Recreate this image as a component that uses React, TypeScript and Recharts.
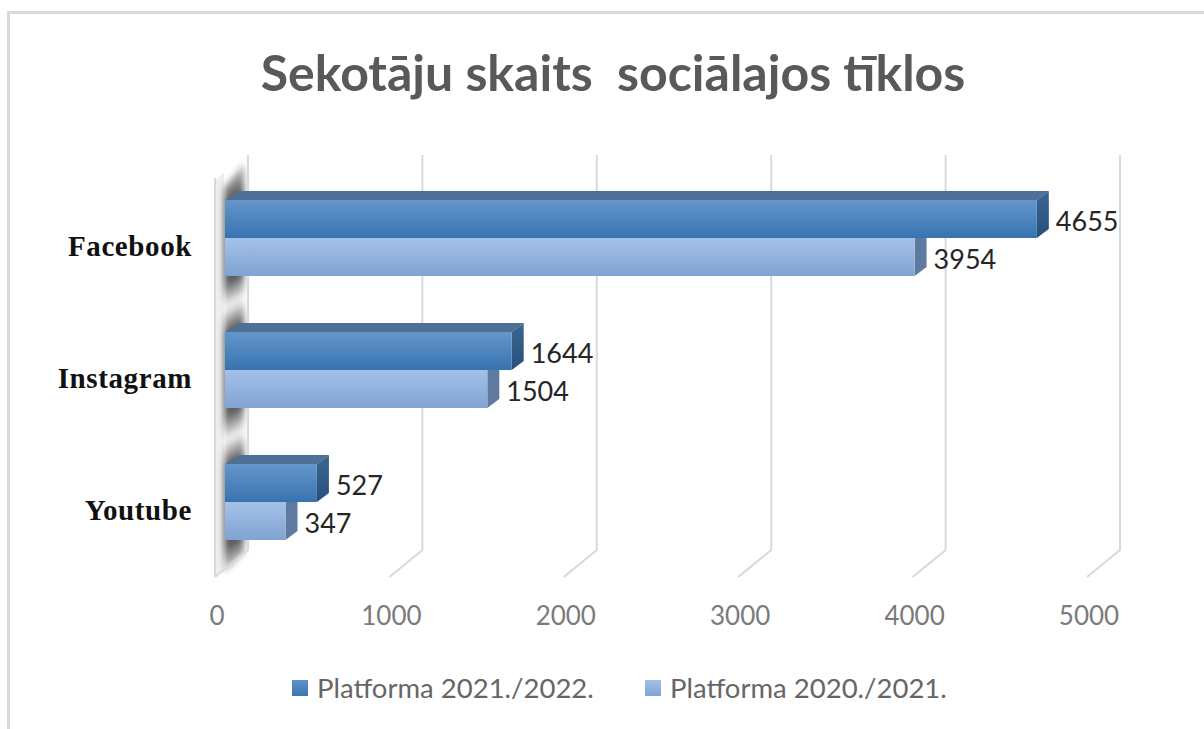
import { BarChart, Bar, XAxis, YAxis, CartesianGrid, Legend, LabelList } from 'recharts';

const categories = ['Facebook', 'Instagram', 'Youtube'];
const platforma2122 = [4655, 1644, 527];
const platforma2021 = [3954, 1504, 347];
const valueTicks = [0, 1000, 2000, 3000, 4000, 5000];
const titleText = 'Sekotāju skaits  sociālajos tīklos';
const seriesNames = ['Platforma 2021./2022.', 'Platforma 2020./2021.'];

const data = categories.map((name, i) => ({
  name,
  a: platforma2122[i],
  b: platforma2021[i],
}));

const SANS = 'Lato, "Open Sans", sans-serif';
const SERIF = '"Liberation Serif", serif';
const GRID = '#d9d9d9';
const DX = 12;
const DY = 9;

// dark where the bars sit on the back wall, fading out in the gaps between them
const wallStops: [number, string][] = [
  [156, '#ffffff'], [196, '#5a5a5a'], [278, '#5a5a5a'], [303, '#f6f6f6'], [328, '#5a5a5a'],
  [410, '#5a5a5a'], [436, '#f6f6f6'], [461, '#5a5a5a'], [542, '#5a5a5a'], [574, '#ffffff'],
];

// 3D-looking bar: front face plus side and (for the upper series) top face
const Bar3D = ({ x, y, width, height, front, side, top }: any) => (
  <g>
    {top && (
      <polygon
        points={`${x},${y} ${x + DX + 4},${y - DY} ${x + width + DX},${y - DY} ${x + width},${y}`}
        fill={top}
      />
    )}
    <polygon
      points={top
        ? `${x + width},${y} ${x + width + DX},${y - DY} ${x + width + DX},${y + height - DY} ${x + width},${y + height}`
        : `${x + width},${y} ${x + width + DX},${y} ${x + width + DX},${y + height - DY} ${x + width},${y + height}`}
      fill={side}
    />
    <rect x={x} y={y} width={width} height={height} fill={front} />
  </g>
);

const GridLine3D = ({ x1, key, index }: any) => {
  const backX = x1 + 23;
  const frontX = x1 - 10;
  return (
    <g key={key ?? index}>
      {index === 0 && (
        <>
          <polygon points="216,180 224,172 224,570 216,576" fill="#efefef" />
          <polygon
            points="224,188 244,163 244,552 224,575"
            fill="url(#wallShadow)"
            filter="url(#wallBlur)"
          />
          <line x1={frontX} y1={178} x2={frontX} y2={577} stroke={GRID} strokeWidth={2} />
        </>
      )}
      <polyline
        points={`${backX},155 ${backX},550 ${frontX},577`}
        fill="none"
        stroke={GRID}
        strokeWidth={2}
      />
    </g>
  );
};

const CategoryTick = ({ y, payload }: any) => (
  <text
    x={192}
    y={y + 18}
    textAnchor="end"
    fontFamily={SERIF}
    fontWeight={700}
    fontSize={29}
    letterSpacing={0.6}
    fill="#111"
  >
    {payload.value}
  </text>
);

const ValueTick = ({ x, y, payload }: any) => (
  <text
    x={x - 8}
    y={y + 49}
    textAnchor="middle"
    fontFamily={SANS}
    fontSize={26}
    fill="#7b7b7b"
  >
    {payload.value}
  </text>
);

// zero height so the legend takes nothing away from the plot area
const LegendRow = () => (
  <div style={{ position: 'relative', height: 0, fontFamily: SANS, fontSize: 27.5, color: '#666' }}>
    {seriesNames.map((n, i) => (
      <div key={n} style={{ position: 'absolute', left: i === 0 ? 292 : 645, top: 0, whiteSpace: 'pre', lineHeight: '40px' }}>
        <span style={{
          position: 'absolute',
          left: 0,
          top: 12,
          width: 16,
          height: 16,
          background: i === 0
            ? 'linear-gradient(#5f93c8, #3a76b2)'
            : 'linear-gradient(#a3bfe6, #7fa3d3)',
        }} />
        <span style={{ marginLeft: 25 }}>{n}</span>
      </div>
    ))}
  </div>
);

export default function App() {
  return (
    <div style={{
      position: 'absolute', left: 0, top: 0, width: 1204, height: 729,
      background: '#fff', overflow: 'hidden',
    }}>
      <div style={{
        position: 'absolute', left: 7, top: 11, width: 1197, height: 718,
        borderLeft: '3px solid #d9d9d9', borderTop: '3px solid #d9d9d9', boxSizing: 'border-box',
      }} />
      <div style={{
        position: 'absolute', left: 0, top: 37, width: 1226, textAlign: 'center',
        fontFamily: SANS, fontWeight: 700, fontSize: 50, lineHeight: '70px',
        color: '#595959', whiteSpace: 'pre',
      }}>
        {titleText}
      </div>
      <div style={{ position: 'absolute', left: 0, top: 0 }}>
        <BarChart
          width={1204}
          height={729}
          data={data}
          layout="vertical"
          margin={{ top: 172, right: 107, bottom: 101, left: 0 }}
          barSize={38}
          barGap={0}
        >
          <defs>
            <linearGradient id="frontA" x1="0" y1="0" x2="0" y2="1">
              <stop offset="0" stopColor="#6496cb" />
              <stop offset="1" stopColor="#3873b0" />
            </linearGradient>
            <linearGradient id="frontB" x1="0" y1="0" x2="0" y2="1">
              <stop offset="0" stopColor="#a5c1e8" />
              <stop offset="1" stopColor="#7fa3d3" />
            </linearGradient>
            <linearGradient id="sideA" x1="0" y1="0" x2="0" y2="1">
              <stop offset="0" stopColor="#3c6690" />
              <stop offset="1" stopColor="#274f7c" />
            </linearGradient>
            <linearGradient
              id="wallShadow"
              gradientUnits="userSpaceOnUse"
              x1="0"
              y1="156"
              x2="0"
              y2="574"
              gradientTransform="translate(234,0) skewY(-30) translate(-234,0)"
            >
              {wallStops.map(([pos, color]) => (
                <stop key={pos} offset={(pos - 156) / 418} stopColor={color} />
              ))}
            </linearGradient>
            <filter id="wallBlur" x="-50%" y="-10%" width="200%" height="120%">
              <feGaussianBlur stdDeviation="3" />
            </filter>
          </defs>
          <CartesianGrid horizontal={false} vertical={GridLine3D as any} />
          <XAxis
            type="number"
            domain={[0, 5000]}
            ticks={valueTicks}
            height={60}
            axisLine={false}
            tickLine={false}
            tick={<ValueTick />}
            interval={0}
          />
          <YAxis
            type="category"
            dataKey="name"
            width={225}
            axisLine={false}
            tickLine={false}
            tick={<CategoryTick />}
          />
          <Legend
            layout="horizontal"
            verticalAlign="top"
            content={<LegendRow />}
            wrapperStyle={{ left: 0, top: 668, width: 1204, height: 0 }}
          />
          <Bar
            dataKey="a"
            name={seriesNames[0]}
            isAnimationActive={false}
            shape={(p: any) => <Bar3D {...p} front="url(#frontA)" side="url(#sideA)" top="#4e7096" />}
          >
            <LabelList dataKey="a" position="right" offset={19} dy={2} fontFamily={SANS} fontSize={27} fill="#262626" />
          </Bar>
          <Bar
            dataKey="b"
            name={seriesNames[1]}
            isAnimationActive={false}
            shape={(p: any) => <Bar3D {...p} front="url(#frontB)" side="#5f7a9f" />}
          >
            <LabelList dataKey="b" position="right" offset={19} dy={2} fontFamily={SANS} fontSize={27} fill="#262626" />
          </Bar>
        </BarChart>
      </div>
    </div>
  );
}
